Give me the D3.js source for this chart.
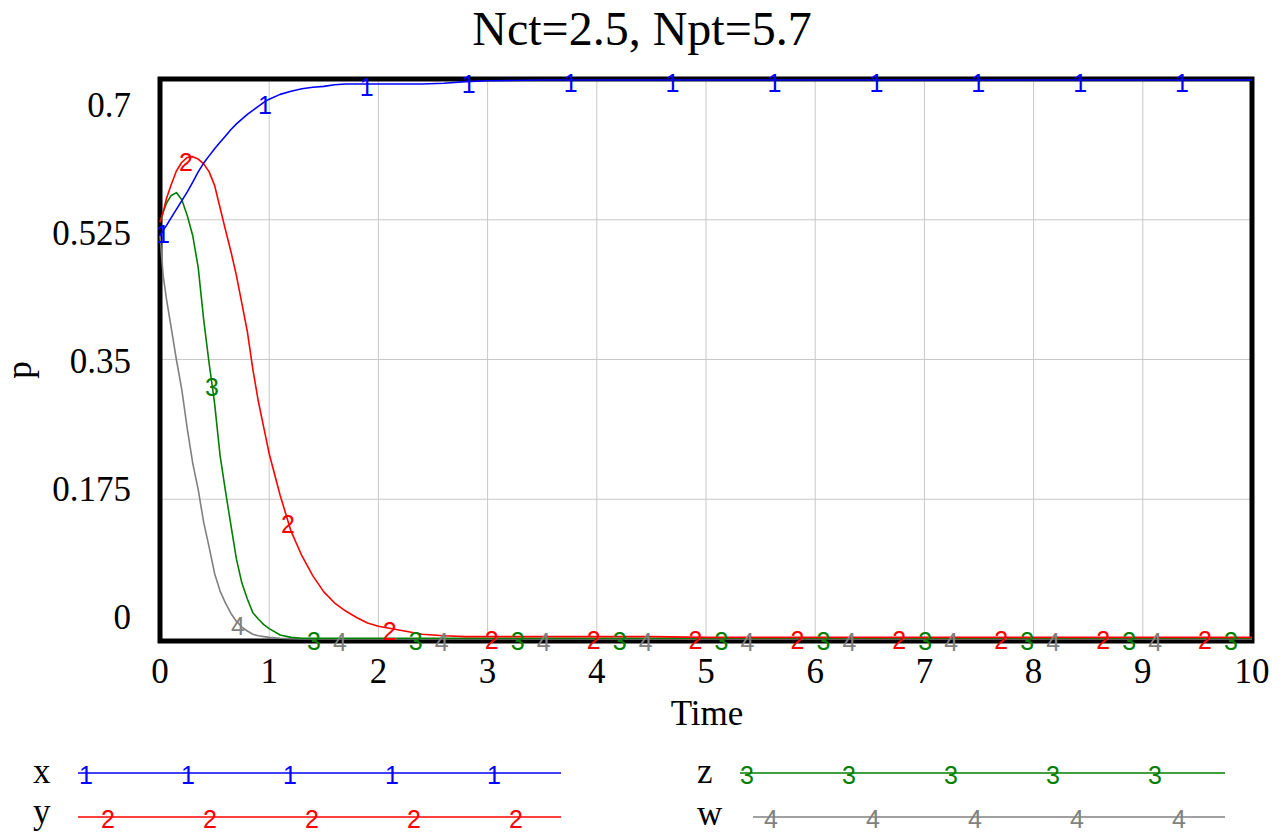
<!DOCTYPE html>
<html>
<head>
<meta charset="utf-8">
<script src="https://cdn.jsdelivr.net/npm/d3@7"></script>
<style>
  html, body { margin: 0; padding: 0; background: #fff; }
  svg { display: block; }
</style>
</head>
<body>
<svg id="chart" width="1283" height="832"></svg>
<script>
// ---- data ----
const times = [0, 0.03, 0.06, 0.1, 0.15, 0.2, 0.25, 0.3, 0.35, 0.4, 0.45, 0.5, 0.55, 0.6, 0.65, 0.7, 0.75, 0.8, 0.85, 0.9, 0.95,
  1.0, 1.1, 1.2, 1.3, 1.4, 1.5, 1.6, 1.7, 1.8, 1.9, 2.0, 2.2, 2.4, 2.6, 2.8, 3.0, 3.5, 4, 4.5, 5, 6, 7, 8, 9, 10];
const xValues = [0.505, 0.512, 0.518, 0.527, 0.538, 0.549, 0.56, 0.572, 0.585, 0.596, 0.605, 0.614, 0.622, 0.63, 0.638, 0.645, 0.651, 0.657, 0.662, 0.667, 0.672,
  0.676, 0.682, 0.686, 0.689, 0.691, 0.692, 0.694, 0.695, 0.695, 0.695, 0.695, 0.695, 0.695, 0.696, 0.698, 0.699, 0.7, 0.7, 0.7, 0.7, 0.7, 0.7, 0.7, 0.7, 0.7];
const yValues = [0.522, 0.535, 0.552, 0.568, 0.586, 0.597, 0.603, 0.604, 0.601, 0.595, 0.585, 0.568, 0.54, 0.512, 0.485, 0.455, 0.42, 0.385, 0.338, 0.298, 0.265,
  0.232, 0.18, 0.135, 0.104, 0.079, 0.059, 0.045, 0.035, 0.027, 0.02, 0.016, 0.011, 0.006, 0.004, 0.003, 0.003, 0.003, 0.003, 0.003, 0.002, 0.002, 0.002, 0.002, 0.002, 0.002];
const zValues = [0.522, 0.535, 0.546, 0.555, 0.559, 0.55, 0.53, 0.505, 0.465, 0.4, 0.345, 0.295, 0.23, 0.185, 0.142, 0.1, 0.07, 0.05, 0.033, 0.025, 0.018,
  0.013, 0.005, 0.002, 0.001, 0.001, 0.001, 0.001, 0.001, 0.001, 0.001, 0.001, 0.001, 0.001, 0.001, 0.001, 0.001, 0.001, 0.001, 0.001, 0.001, 0.001, 0.001, 0.001, 0.001, 0.001];
const wValues = [0.505, 0.454, 0.425, 0.392, 0.35, 0.312, 0.263, 0.22, 0.187, 0.146, 0.115, 0.082, 0.06, 0.045, 0.032, 0.022, 0.015, 0.01, 0.006, 0.004, 0.003,
  0.002, 0.001, 0.0005, 0, 0, 0, 0, 0, 0, 0, 0, 0, 0, 0, 0, 0, 0, 0, 0, 0, 0, 0, 0, 0, 0];

const seriesNames = ["x", "y", "z", "w"];
const seriesMarks = ["1", "2", "3", "4"];
const seriesColors = ["#0000ff", "#ff0000", "#008000", "#808080"];
const seriesValues = [xValues, yValues, zValues, wValues];

const xTicks = [0, 1, 2, 3, 4, 5, 6, 7, 8, 9, 10];
const yTicks = [0, 0.175, 0.35, 0.525, 0.7];
const yTickLabels = ["0", "0.175", "0.35", "0.525", "0.7"];
const titleText = "Nct=2.5, Npt=5.7";
const xTitle = "Time";
const yTitle = "p";

// marker placement along curves (time units)
const markerStart = [0.0275, 0.238, 0.476, 0.714];
const markerStep = 0.9332;

// ---- layout ----
const svg = d3.select("#chart");
const plotL = 160, plotR = 1252, plotT = 80, plotB = 639;
const x = d3.scaleLinear().domain([0, 10]).range([plotL, plotR]);
const y = d3.scaleLinear().domain([0, 0.7]).range([plotB, plotT]);
const yLabelPos = d3.scaleLinear().domain([0, 0.7]).range([617, 105]);

const serif = "'Liberation Serif', 'Times New Roman', serif";
const sans = "'Liberation Sans', Arial, sans-serif";

// title
svg.append("text").attr("x", 642).attr("y", 45).attr("text-anchor", "middle")
  .style("font-family", serif).style("font-size", "48px").text(titleText);

// grid
const grid = svg.append("g");
grid.selectAll("line.v").data(xTicks.filter(t => t > 0 && t < 10)).enter().append("line")
  .attr("x1", d => x(d)).attr("x2", d => x(d)).attr("y1", plotT).attr("y2", plotB)
  .attr("stroke", "#c8c8c8").attr("stroke-width", 1);
grid.selectAll("line.h").data(yTicks.filter(t => t > 0 && t < 0.7)).enter().append("line")
  .attr("x1", plotL).attr("x2", plotR).attr("y1", d => y(d)).attr("y2", d => y(d))
  .attr("stroke", "#c8c8c8").attr("stroke-width", 1);

// frame
svg.append("rect").attr("x", plotL).attr("y", plotT - 1).attr("width", plotR - plotL).attr("height", plotB + 2 - plotT + 1)
  .attr("fill", "none").attr("stroke", "#000").attr("stroke-width", 5);

// y tick labels
svg.append("g").selectAll("text").data(yTicks).enter().append("text")
  .attr("x", 131).attr("y", d => yLabelPos(d)).attr("dy", "0.34em").attr("text-anchor", "end")
  .style("font-family", serif).style("font-size", "35px")
  .text((d, i) => yTickLabels[i]);

// x tick labels
svg.append("g").selectAll("text").data(xTicks).enter().append("text")
  .attr("x", d => x(d)).attr("y", 683).attr("text-anchor", "middle")
  .style("font-family", serif).style("font-size", "35px")
  .text(d => d);

// axis titles
svg.append("text").attr("x", 707).attr("y", 725).attr("text-anchor", "middle")
  .style("font-family", serif).style("font-size", "35px").text(xTitle);
svg.append("text").attr("transform", "translate(31,370) rotate(-90)").attr("text-anchor", "middle")
  .style("font-family", serif).style("font-size", "35px").text(yTitle);

// lines
const line = d3.line().x(d => x(d[0])).y(d => y(d[1]));
const drawOrder = [3, 2, 1, 0];
const gLines = svg.append("g");
drawOrder.forEach(si => {
  const pts = times.map((t, i) => [t, seriesValues[si][i]]);
  gLines.append("path").datum(pts).attr("d", line)
    .attr("fill", "none").attr("stroke", seriesColors[si]).attr("stroke-width", 1.6)
    .attr("stroke-linejoin", "round");
});

// markers on curves
const bis = d3.bisector(d => d).right;
function valueAt(vals, t) {
  let i = bis(times, t);
  if (i <= 0) return vals[0];
  if (i >= times.length) return vals[vals.length - 1];
  const t0 = times[i - 1], t1 = times[i];
  const f = (t - t0) / (t1 - t0);
  return vals[i - 1] + f * (vals[i] - vals[i - 1]);
}
const gMarks = svg.append("g");
drawOrder.forEach(si => {
  const ts = [];
  for (let t = markerStart[si]; t <= 10; t += markerStep) ts.push(t);
  gMarks.selectAll(null).data(ts).enter().append("text")
    .attr("x", d => x(d)).attr("y", d => y(valueAt(seriesValues[si], d)))
    .attr("dy", "0.48em").attr("text-anchor", "middle")
    .style("font-family", sans).style("font-size", "25px").attr("fill", seriesColors[si])
    .text(seriesMarks[si]);
});

// legend
const legendRows = [
  { si: 0, labelX: 33, lineX1: 78, lineX2: 561, lineY: 773, labelDy: 10, firstMark: 86 },
  { si: 1, labelX: 33, lineX1: 78, lineX2: 561, lineY: 817, labelDy: 6, firstMark: 108 },
  { si: 2, labelX: 697, lineX1: 740, lineX2: 1225, lineY: 773, labelDy: 10, firstMark: 747 },
  { si: 3, labelX: 697, lineX1: 753, lineX2: 1225, lineY: 817, labelDy: 8, firstMark: 771 }
];
const legendMarkStep = 102;
const gLeg = svg.append("g");
legendRows.forEach(r => {
  gLeg.append("text").attr("x", r.labelX).attr("y", r.lineY + r.labelDy)
    .style("font-family", serif).style("font-size", "35px").text(seriesNames[r.si]);
  gLeg.append("line").attr("x1", r.lineX1).attr("x2", r.lineX2).attr("y1", r.lineY).attr("y2", r.lineY)
    .attr("stroke", seriesColors[r.si]).attr("stroke-width", 1.6);
  gLeg.selectAll(null).data(d3.range(5)).enter().append("text")
    .attr("x", k => r.firstMark + k * legendMarkStep).attr("y", r.lineY).attr("dy", "0.45em")
    .attr("text-anchor", "middle").style("font-family", sans).style("font-size", "25px")
    .attr("fill", seriesColors[r.si]).text(seriesMarks[r.si]);
});
</script>
</body>
</html>
